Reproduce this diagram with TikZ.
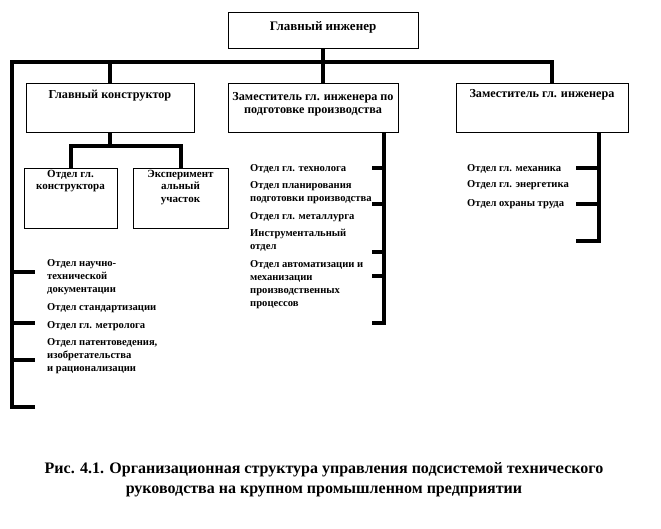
\documentclass[tikz,border=0pt]{standalone}
\usepackage{fontspec}
\setmainfont{Liberation Serif}
\usetikzlibrary{positioning}

\begin{document}
\begin{tikzpicture}[x=1pt, y=-1pt,
    frame/.style={draw, line width=0.8pt, inner sep=0pt, minimum height=49},
    title/.style={font=\fontsize{12.2}{13}\selectfont\bfseries, align=center, anchor=north, inner sep=0pt},
    subtitle/.style={title, font=\fontsize{11}{12.5}\selectfont\bfseries},
    item/.style={font=\fontsize{10.6}{13}\selectfont\bfseries, align=left, anchor=north west, inner sep=0pt},
    bus/.style={line width=4pt, line join=miter}]

    \useasboundingbox (0,0) rectangle (661,529);

    %Boxes
    \node[frame, minimum width=190, minimum height=36] (chief) at (323,30) {};
    \node[title, below=10pt of chief.north, anchor=north, font=\fontsize{13}{13}\selectfont\bfseries] (chief-t) {Главный инженер};

    \node[frame, minimum width=168] (gk) at (110,107.5) {};
    \node[title, below=7pt of gk.north, anchor=north] (gk-t) {Главный конструктор};

    \node[frame, minimum width=170] (dep1) at (313,107.5) {};
    \node[title, below=10pt of dep1.north, anchor=north] (dep1-t) {Заместитель гл. инженера по\\подготовке производства};

    \node[frame, minimum width=172] (dep2) at (542,107.5) {};
    \node[title, below=7pt of dep2.north, anchor=north] (dep2-t) {Заместитель гл. инженера};

    \node[frame, minimum width=93, minimum height=60] (ogk) at (70.5,198) {};
    \node[subtitle, below=2pt of ogk.north, anchor=north] (ogk-t) {Отдел гл.\\конструктора};

    \node[frame, minimum width=95, minimum height=60] (exp) at (180.5,198) {};
    \node[subtitle, below=2pt of exp.north, anchor=north] (exp-t) {Эксперимент\\альный\\участок};

    %Bus lines
    \coordinate (busL) at (12,62);
    \coordinate (lend) at (35,407);
    \draw[bus] (lend) -| (busL) -| ([xshift=10]dep2.north);
    \draw[bus] (gk.north |- busL) -- (gk.north);
    \draw[bus] (chief.south) -- (chief.south |- dep1.north);

    %Chief designer branch
    \draw[bus] (gk.south) -- ++(0,14) coordinate (fork);
    \draw[bus] (ogk.north) |- (fork) -| (exp.north);

    %Spines and ticks
    \foreach \y in {272,323,360}
    \draw[bus] (12,\y) -- (35,\y);

    \draw[bus] ([xshift=71]dep1.south) |- (372,323);
    \foreach \y in {168,204,252,276}
    \draw[bus] (372,\y) -- (384,\y);

    \draw[bus] ([xshift=57]dep2.south) |- (576,241);
    \foreach \y in {168,204}
    \draw[bus] (576,\y) -- (599,\y);

    %Departments
    \node[item] (ntd) at (47,259) {Отдел научно-\\технической\\документации};
    \node[item] (std) at (47,303) {Отдел стандартизации};
    \node[item] (metr) at (47,321) {Отдел гл. метролога};
    \node[item] (pat) at (47,338) {Отдел патентоведения,\\изобретательства\\и рационализации};

    \node[item] (tech) at (250,164) {Отдел гл. технолога};
    \node[item] (plan) at (250,181) {Отдел планирования\\подготовки производства};
    \node[item] (met) at (250,212) {Отдел гл. металлурга};
    \node[item] (instr) at (250,229) {Инструментальный\\отдел};
    \node[item] (auto) at (250,260) {Отдел автоматизации и\\механизации\\производственных\\процессов};

    \node[item] (mech) at (467,164) {Отдел гл. механика};
    \node[item] (energ) at (467,180) {Отдел гл. энергетика};
    \node[item] (ohr) at (467,199) {Отдел охраны труда};

    %Caption
    \node[font=\fontsize{16}{20}\selectfont\bfseries, align=center] (caption) at (324,480)
    {Рис. 4.1. Организационная структура управления подсистемой технического\\руководства на крупном промышленном предприятии};

\end{tikzpicture}
\end{document}
